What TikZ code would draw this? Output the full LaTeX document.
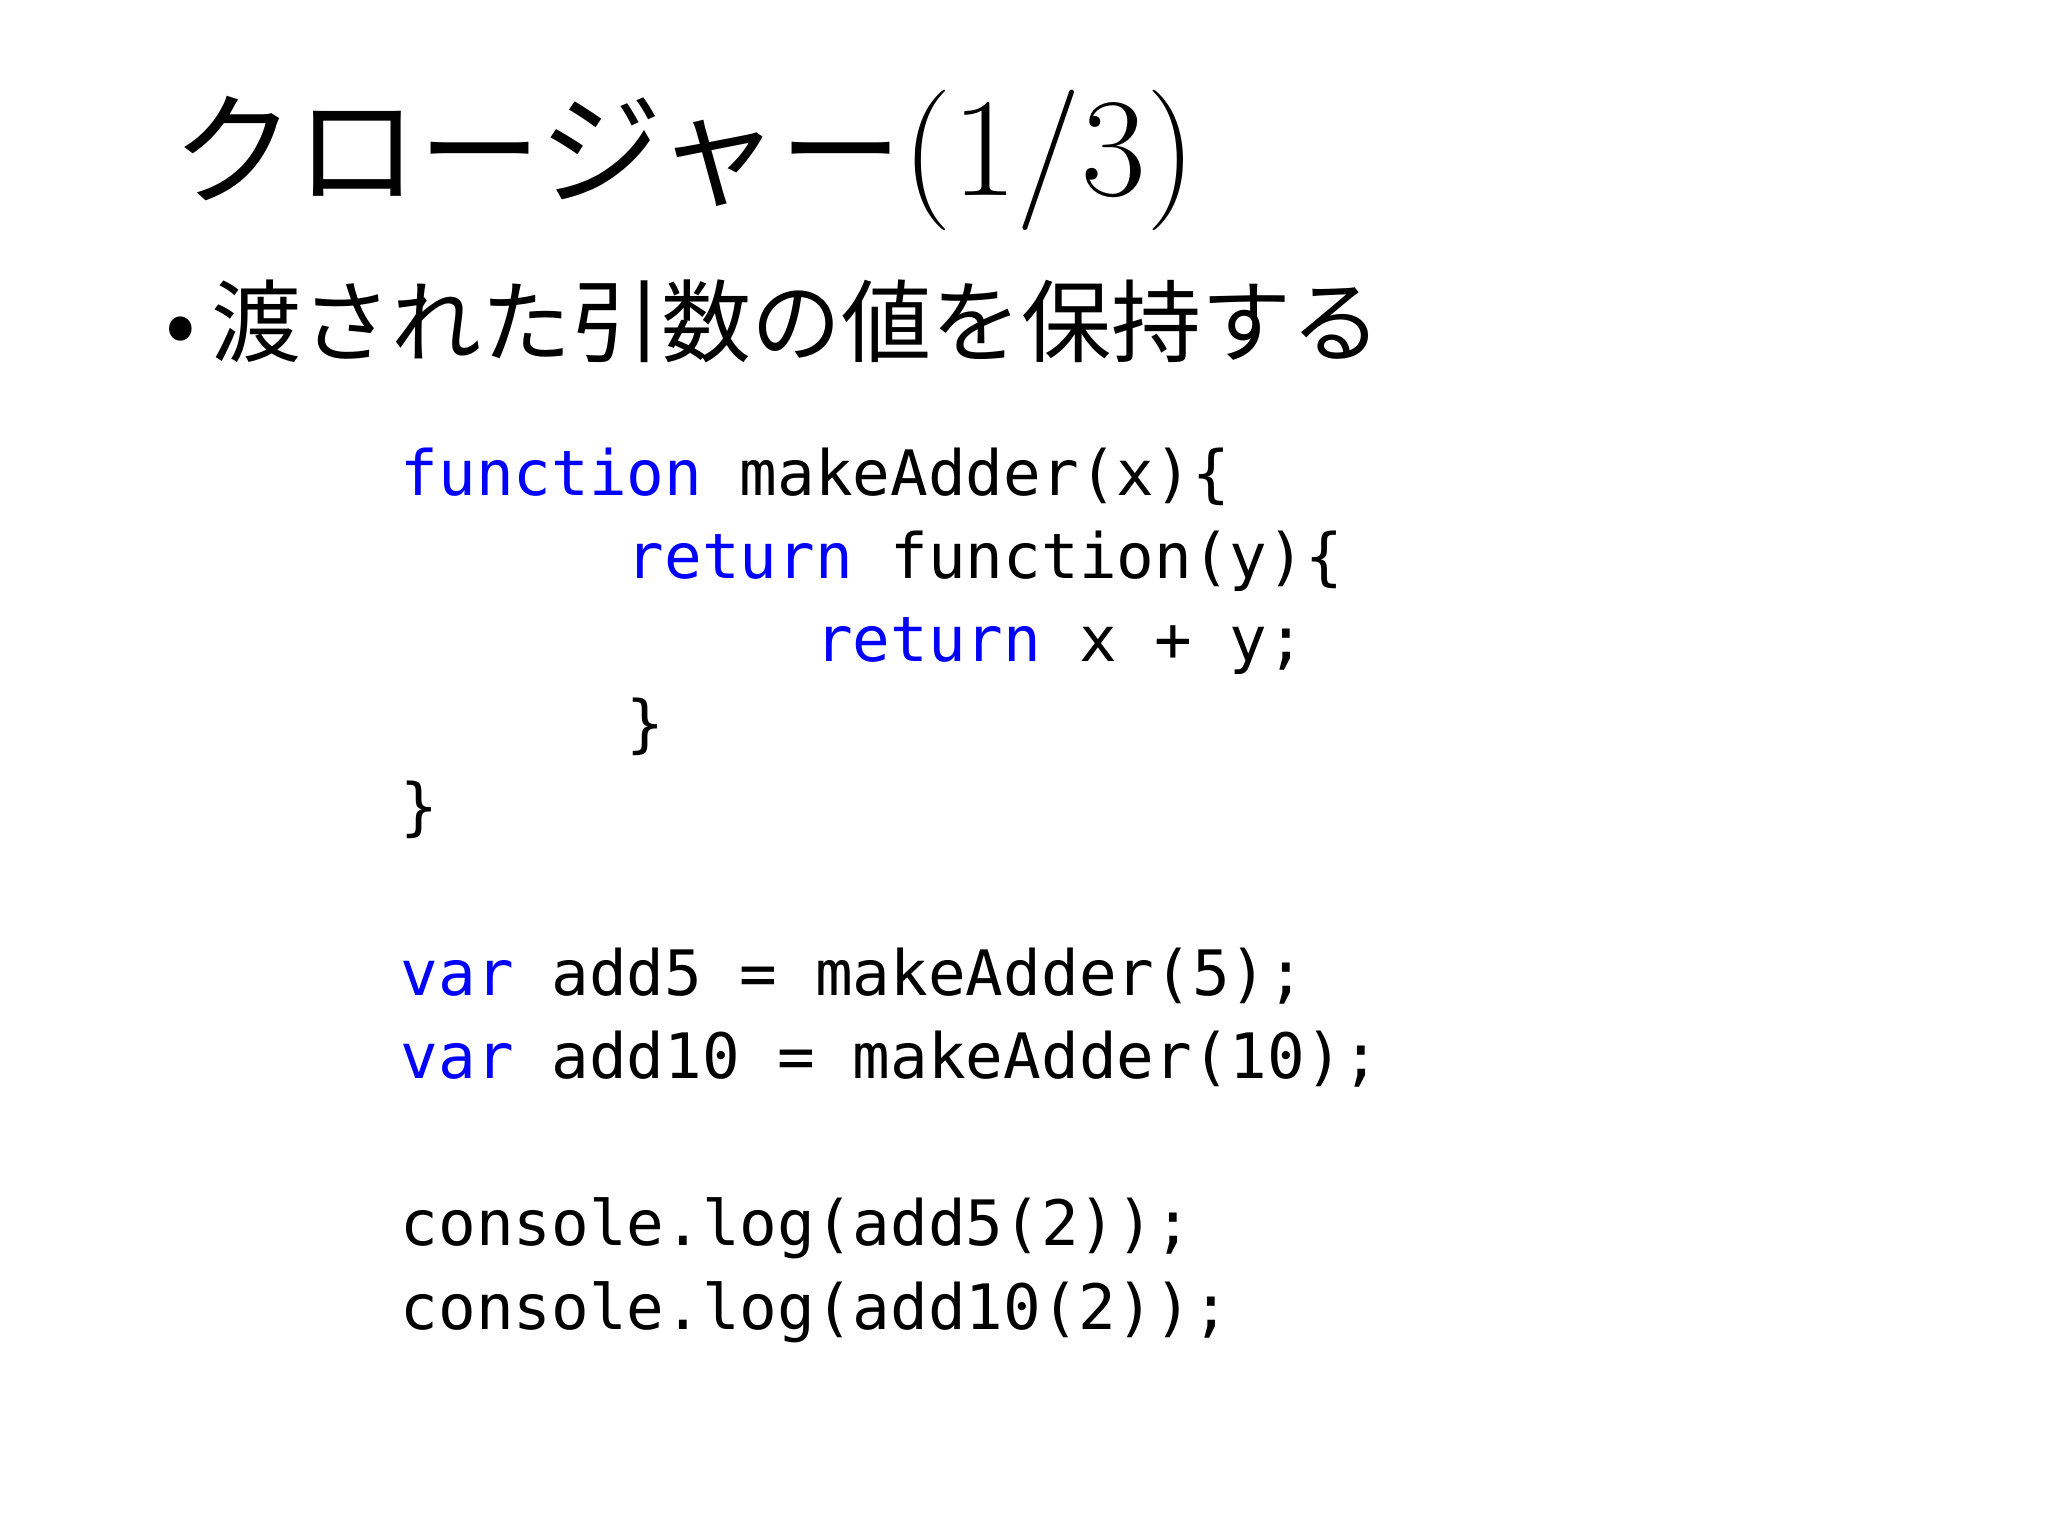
\documentclass[tikz,border=0pt]{standalone}
\usepackage{fontspec}
\setmonofont{DejaVu Sans Mono}
\newfontfamily\jp{Noto Sans CJK JP}
\definecolor{kw}{RGB}{0,0,255}
\begin{document}
\begin{tikzpicture}[x=0.01cm,y=-0.01cm,
  code/.style={anchor=base west,inner sep=0,font=\fontsize{17.8pt}{20pt}\ttfamily}]
\useasboundingbox[fill=white] (0,0) rectangle (2048,1536);
\node[anchor=base west,inner sep=0,font=\fontsize{35pt}{40pt}\jp] (title) at (172,195) {クロージャー{\rmfamily\fontsize{40pt}{44pt}\selectfont(1/3)}};
\node[anchor=base west,inner sep=0,font=\fontsize{25.6pt}{30pt}\jp] (b1) at (165,355) {•\,渡された引数の値を保持する};
\def\L{400}
\node[code] (l0) at (\L,495) {\textcolor{kw}{function} makeAdder(x)\{};
\node[code] (l1) at (\L,578.4) {\phantom{012345}\textcolor{kw}{return} function(y)\{};
\node[code] (l2) at (\L,661.8) {\phantom{01234567890}\textcolor{kw}{return} x + y;};
\node[code] (l3) at (\L,745.2) {\phantom{012345}\}};
\node[code] (l4) at (\L,828.6) {\}};
\node[code] (l6) at (\L,995.4) {\textcolor{kw}{var} add5 = makeAdder(5);};
\node[code] (l7) at (\L,1078.8) {\textcolor{kw}{var} add10 = makeAdder(10);};
\node[code] (l9) at (\L,1245.6) {console.log(add5(2));};
\node[code] (l10) at (\L,1329) {console.log(add10(2));};
\end{tikzpicture}
\end{document}
